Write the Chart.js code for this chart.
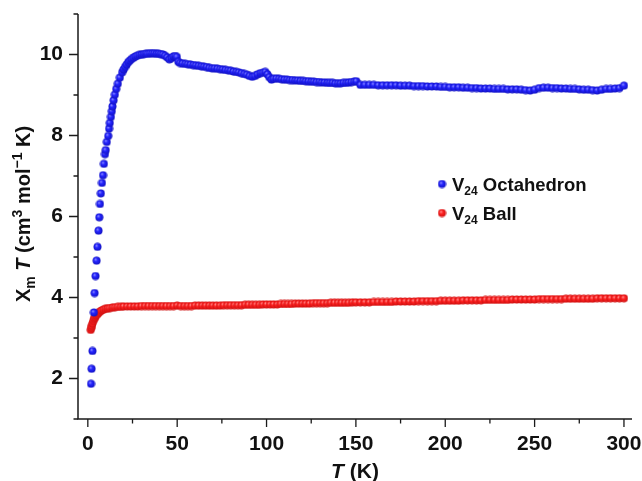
<!DOCTYPE html>
<html><head><meta charset="utf-8">
<script src="https://cdn.jsdelivr.net/npm/chart.js@4.4.1/dist/chart.umd.min.js"></script>
<style>html,body{margin:0;padding:0;background:#fff}canvas{display:block}</style>
</head><body>
<canvas id="c" width="642" height="481"></canvas>
<script>
// ---- data ----
const octaT = [1.8,2.1,2.6,3.4,3.8,4.3,4.9,5.4,6.0,6.4,6.8,7.3,7.9,8.5,9.0,9.6,10.0,10.6,11.4,11.9,12.3,12.9,13.4,13.8,14.4,15.1,15.9,16.8,17.9,19.2,20.0,20.8,21.7,22.6,23.5,24.5,25.6,26.6,27.6,28.8,30.0,31.2,32.4,33.6,34.8,36.0,37.2,38.4,39.6,40.8,42.0,43.2,44.4,45.6,46.8,47.8,48.8,49.8,50.6,51.6,
53,54.5,56,57.5,59,60.5,62,63.5,65,66.5,68,69.5,71,72.5,74,75.5,77,78.5,80,81.5,83,84.5,86,87.5,89,90.5,92,93.5,95,96.5,98,99.3,100.5,101.5,102.8,104,105.5,107,108.5,110,111.5,113,114.5,116,117.5,119,120.5,122,123.5,125,126.5,128,129.5,131,132.5,134,135.5,137,138.5,140,141.5,143,144.5,146,147.5,149,150.2,
152.5,155,157.5,160,162.5,165,167.5,170,172.5,175,177.5,180,182.5,185,187.5,190,192.5,195,197.5,200,202.5,205,207.5,210,212.5,215,217.5,220,222.5,225,227.5,230,232.5,235,237.5,240,242.5,245,247.5,250,252.5,255,257.5,260,262.5,265,267.5,270,272.5,275,277.5,280,282.5,285,287.5,290,292.5,295,297.5,300];
const octaChi = [1.87,2.24,2.68,3.63,4.11,4.53,4.91,5.25,5.65,5.98,6.31,6.57,6.83,7.02,7.30,7.54,7.64,7.84,7.99,8.17,8.31,8.46,8.60,8.72,8.87,9.01,9.15,9.28,9.43,9.56,9.63,9.69,9.75,9.81,9.85,9.89,9.92,9.95,9.97,9.99,10.00,10.01,10.02,10.02,10.03,10.03,10.03,10.02,10.02,10.01,10.00,9.97,9.93,9.88,9.91,9.95,9.96,9.94,9.82,9.79,
9.78,9.77,9.76,9.75,9.74,9.73,9.72,9.71,9.70,9.69,9.67,9.66,9.66,9.65,9.64,9.63,9.62,9.61,9.60,9.58,9.57,9.56,9.54,9.52,9.50,9.47,9.45,9.47,9.51,9.54,9.55,9.57,9.51,9.44,9.38,9.40,9.41,9.40,9.39,9.38,9.38,9.37,9.37,9.36,9.36,9.35,9.35,9.34,9.34,9.33,9.33,9.32,9.32,9.31,9.31,9.30,9.30,9.30,9.29,9.29,9.29,9.30,9.30,9.31,9.32,9.33,9.34,
9.25,9.25,9.25,9.25,9.24,9.24,9.24,9.24,9.24,9.23,9.23,9.23,9.22,9.22,9.22,9.21,9.21,9.21,9.20,9.20,9.19,9.19,9.19,9.18,9.18,9.17,9.17,9.16,9.16,9.16,9.15,9.15,9.15,9.14,9.14,9.14,9.13,9.12,9.11,9.13,9.17,9.18,9.18,9.17,9.17,9.16,9.16,9.15,9.15,9.14,9.13,9.13,9.12,9.11,9.13,9.15,9.15,9.16,9.17,9.23];

const ballT = [1.6,1.9,2.2,2.6,3.0,3.5,4.0,4.6,5.3,6.0,6.8,7.7,8.7,9.8,11,12.3,13.7,15.2,16.8,18.5,
20,22,24,26,28,30,32,34,36,38,40,42,44,46,48,50,52,54,56,58,60,62,64,66,68,70,72,74,76,78,80,82,84,86,88,90,92,94,96,98,100,102,104,106,108,110,112,114,116,118,120,122,124,126,128,130,132,134,136,138,140,142,144,146,148,150,
152.5,155,157.5,160,162.5,165,167.5,170,172.5,175,177.5,180,182.5,185,187.5,190,192.5,195,197.5,200,202.5,205,207.5,210,212.5,215,217.5,220,222.5,225,227.5,230,232.5,235,237.5,240,242.5,245,247.5,250,252.5,255,257.5,260,262.5,265,267.5,270,272.5,275,277.5,280,282.5,285,287.5,290,292.5,295,297.5,300];
const ballChi = [3.20,3.25,3.30,3.36,3.42,3.47,3.51,3.55,3.59,3.62,3.65,3.68,3.70,3.72,3.73,3.74,3.75,3.76,3.77,3.77,
3.78,3.78,3.78,3.78,3.78,3.79,3.79,3.79,3.79,3.79,3.79,3.79,3.79,3.79,3.79,3.80,3.79,3.79,3.79,3.79,3.80,3.80,3.80,3.80,3.80,3.80,3.80,3.80,3.81,3.81,3.81,3.81,3.81,3.81,3.82,3.82,3.82,3.82,3.82,3.83,3.83,3.83,3.83,3.83,3.84,3.84,3.84,3.84,3.85,3.85,3.85,3.85,3.85,3.86,3.86,3.86,3.86,3.86,3.87,3.87,3.87,3.87,3.87,3.87,3.88,3.88,
3.88,3.88,3.88,3.89,3.89,3.89,3.89,3.89,3.90,3.90,3.90,3.90,3.90,3.91,3.91,3.91,3.91,3.91,3.92,3.92,3.92,3.92,3.92,3.93,3.93,3.93,3.93,3.93,3.94,3.94,3.94,3.94,3.94,3.94,3.95,3.95,3.95,3.95,3.95,3.95,3.96,3.96,3.96,3.96,3.96,3.96,3.97,3.97,3.97,3.97,3.97,3.97,3.97,3.98,3.98,3.98,3.98,3.98,3.98,3.98];

const xMajorTicks = [0,50,100,150,200,250,300];
const xMinorTicks = [25,75,125,175,225,275];
const yMajorTicks = [2,4,6,8,10];
const yMinorTicks = [1,3,5,7,9,11];
const legendNames = [['V','24',' Octahedron'],['V','24',' Ball']];

// ---- styling ----
const FONT = "'Liberation Sans', Arial, Helvetica, sans-serif";

function makeBall(hi, mid, dark) {
  const c = document.createElement('canvas');
  c.width = 9; c.height = 9;
  const g = c.getContext('2d');
  const grad = g.createRadialGradient(3.3, 3.1, 0.2, 4.5, 4.5, 4.2);
  grad.addColorStop(0, hi);
  grad.addColorStop(0.4, mid);
  grad.addColorStop(1, dark);
  g.fillStyle = grad;
  g.beginPath(); g.arc(4.5, 4.5, 4.0, 0, Math.PI * 2); g.fill();
  return c;
}
const blueBall = makeBall('#8c8cff', '#2424ff', '#1212c0');
const redBall = makeBall('#ff9090', '#ff2222', '#cc1010');

function pts(xs, ys) { return xs.map((x, i) => ({x: x, y: ys[i]})); }

function drawRich(ctx, segs, x, y) {
  let cx = x;
  for (const s of segs) {
    ctx.font = (s.italic ? 'italic ' : '') + 'bold ' + s.size + 'px ' + FONT;
    ctx.fillText(s.t, cx, y + (s.dy || 0));
    cx += ctx.measureText(s.t).width;
  }
  return cx - x;
}
function richWidth(ctx, segs) {
  let w = 0;
  for (const s of segs) {
    ctx.font = (s.italic ? 'italic ' : '') + 'bold ' + s.size + 'px ' + FONT;
    w += ctx.measureText(s.t).width;
  }
  return w;
}

const decor = {
  id: 'decor',
  afterDraw(chart) {
    const ctx = chart.ctx;
    const a = chart.chartArea;
    const xs = chart.scales.x, ys = chart.scales.y;
    ctx.save();
    ctx.strokeStyle = '#1a1a1a';
    ctx.lineWidth = 1.5;
    ctx.beginPath();
    ctx.moveTo(a.left, a.top); ctx.lineTo(a.left, a.bottom); ctx.lineTo(a.right, a.bottom);
    ctx.stroke();
    ctx.lineWidth = 1.3;
    ctx.beginPath();
    for (const v of xMajorTicks) { const p = xs.getPixelForValue(v); ctx.moveTo(p, a.bottom); ctx.lineTo(p, a.bottom + 8); }
    for (const v of xMinorTicks) { const p = xs.getPixelForValue(v); ctx.moveTo(p, a.bottom); ctx.lineTo(p, a.bottom + 4.5); }
    for (const v of yMajorTicks) { const p = ys.getPixelForValue(v); ctx.moveTo(a.left, p); ctx.lineTo(a.left - 9, p); }
    for (const v of yMinorTicks) { const p = ys.getPixelForValue(v); ctx.moveTo(a.left, p); ctx.lineTo(a.left - 4.5, p); }
    ctx.stroke();

    ctx.fillStyle = '#111';
    ctx.textBaseline = 'alphabetic';
    ctx.textAlign = 'left';
    // x title
    const xt = [{t:'T', size:21, italic:true}, {t:' (K)', size:21}];
    const xw = richWidth(ctx, xt);
    drawRich(ctx, xt, (a.left + a.right) / 2 - xw / 2, 478);
    // y title
    const yt = [{t:'X', size:20}, {t:'m', size:14, dy:5}, {t:' ', size:20}, {t:'T', size:20, italic:true},
      {t:' (cm', size:20}, {t:'3', size:14, dy:-8}, {t:' mol', size:20}, {t:'\u22121', size:14, dy:-8}, {t:' K)', size:20}];
    const yw = richWidth(ctx, yt);
    ctx.save();
    ctx.translate(30, 214);
    ctx.rotate(-Math.PI / 2);
    drawRich(ctx, yt, -yw / 2, 0);
    ctx.restore();
    // legend
    const balls = [blueBall, redBall];
    legendNames.forEach((n, i) => {
      const by = 184 + i * 29;
      ctx.drawImage(balls[i], 442 - 4.5, by - 4.5);
      drawRich(ctx, [{t:n[0], size:18.5}, {t:n[1], size:12, dy:4}, {t:n[2], size:18.5}], 452, by + 7);
    });
    ctx.restore();
  }
};

new Chart(document.getElementById('c'), {
  type: 'scatter',
  data: {
    datasets: [
      {label: 'V24 Octahedron', data: pts(octaT, octaChi), pointStyle: blueBall, pointRadius: 4, showLine: false},
      {label: 'V24 Ball', data: pts(ballT, ballChi), pointStyle: redBall, pointRadius: 4, showLine: false}
    ]
  },
  options: {
    responsive: false,
    animation: false,
    devicePixelRatio: 1,
    layout: {padding: {top: 14, right: 10, left: 0, bottom: 0}},
    plugins: {legend: {display: false}, tooltip: {enabled: false}},
    scales: {
      x: {
        type: 'linear', min: -5.5, max: 304.5,
        grid: {display: false, drawTicks: false, tickLength: 0},
        border: {display: false},
        afterBuildTicks: s => { s.ticks = xMajorTicks.map(v => ({value: v})); },
        afterFit: s => { s.height = 62; s.paddingLeft = 0; s.paddingRight = 0; },
        ticks: {autoSkip: false, maxRotation: 0, padding: 13, color: '#111',
          font: {family: FONT, size: 21, weight: 'bold'}}
      },
      y: {
        type: 'linear', min: 1, max: 11,
        grid: {display: false, drawTicks: false, tickLength: 0},
        border: {display: false},
        afterBuildTicks: s => { s.ticks = yMajorTicks.map(v => ({value: v})); },
        afterFit: s => { s.width = 78; s.paddingTop = 0; s.paddingBottom = 0; },
        ticks: {autoSkip: false, padding: 15, color: '#111',
          font: {family: FONT, size: 21, weight: 'bold'}}
      }
    }
  },
  plugins: [decor]
});
</script>
</body></html>
